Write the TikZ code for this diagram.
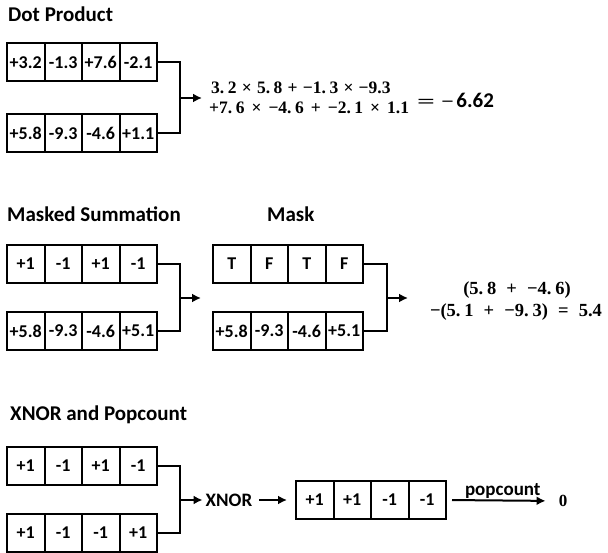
\documentclass[tikz,border=0pt]{standalone}
\usepackage[no-math]{fontspec}
\newfontfamily\labelfont{Carlito}
\newfontfamily\eqnfont{Liberation Serif}
\usepackage{tikz}
\usetikzlibrary{arrows.meta}

\newcommand\opsp{\hspace{0.3em}}
\newcommand\lsp{\hspace{0.4em}}
\newcommand\wsp{\hspace{0.55em}}
\newcommand\dpt{.\hspace{0.2em}}

\tikzset{
  cell/.style={draw, line width=2pt, minimum width=37.5pt, minimum height=38pt, inner sep=0pt, font=\labelfont\bfseries\fontsize{18}{20}\selectfont},
  title/.style={anchor=base west, inner sep=0pt, font=\labelfont\bfseries\fontsize{21}{24}\selectfont},
  wire/.style={line width=2pt},
  eqn/.style={inner sep=0pt, font=\eqnfont\bfseries\fontsize{17.5}{20}\selectfont}
}

\begin{document}
\begin{tikzpicture}[x=1pt, y=-1pt, >={Latex[length=9pt,width=9pt]}]
\useasboundingbox (0,0) rectangle (608,553);
% dot product
\node[title](dottitle) at (8,22) {Dot Product};
\node[cell](d11) at (25.75,62.5) {+3.2};
\node[cell](d12) at (63.25,62.5) {-1.3};
\node[cell](d13) at (100.75,62.5) {+7.6};
\node[cell](d14) at (138.25,62.5) {-2.1};
\node[cell](d21) at (25.75,133.5) {+5.8};
\node[cell](d22) at (63.25,133.5) {-9.3};
\node[cell](d23) at (100.75,133.5) {-4.6};
\node[cell](d24) at (138.25,133.5) {+1.1};
\coordinate (dj) at (180,98);
\coordinate (dt) at (202,98);
\node[eqn, anchor=west](dline1) at (211,88) {3\dpt 2\opsp×\opsp 5\dpt 8\opsp+\opsp −1\dpt 3\opsp×\opsp −9.3};
\node[eqn, anchor=west](dline2) at (209,108) {+7\dpt 6\lsp×\lsp −4\dpt 6\lsp+\lsp −2\dpt 1\lsp×\lsp 1.1};
\node[eqn, anchor=west](dres) at (417,100) {\scalebox{1.8}[1]{=}\hspace{0.35em}\scalebox{1.25}[1]{−}\hspace{0.15em}{\labelfont\bfseries\fontsize{21}{24}\selectfont 6.62}};
\draw[wire] (d14.east) -| (dj) |- (d24.east);
\draw[wire,->] (dj) -- (dt);
% masked summation
\node[title](sumtitle) at (7,222) {Masked Summation};
\node[title](masktitle) at (267,222) {Mask};
\node[cell](s11) at (25.75,264) {+1};
\node[cell](s12) at (63.25,264) {-1};
\node[cell](s13) at (100.75,264) {+1};
\node[cell](s14) at (138.25,264) {-1};
\node[cell](s21) at (25.75,331) {+5.8};
\node[cell](s22) at (63.25,331) {-9.3};
\node[cell](s23) at (100.75,331) {-4.6};
\node[cell](s24) at (138.25,331) {+5.1};
\coordinate (sj) at (180,298);
\coordinate (st) at (201,298);
\draw[wire] (s14.east) -| (sj) |- (s24.east);
\draw[wire,->] (sj) -- (st);
\node[cell](m11) at (231.75,264) {T};
\node[cell](m12) at (269.25,264) {F};
\node[cell](m13) at (306.75,264) {T};
\node[cell](m14) at (344.25,264) {F};
\node[cell](m21) at (231.75,331) {+5.8};
\node[cell](m22) at (269.25,331) {-9.3};
\node[cell](m23) at (306.75,331) {-4.6};
\node[cell](m24) at (344.25,331) {+5.1};
\coordinate (mj) at (387,298);
\coordinate (mt) at (408,298);
\draw[wire] (m14.east) -| (mj) |- (m24.east);
\draw[wire,->] (mj) -- (mt);
\node[eqn, font=\eqnfont\bfseries\fontsize{18.5}{20}\selectfont](mline1) at (517,290) {(5\dpt 8\wsp+\wsp −4\dpt 6)};
\node[eqn, font=\eqnfont\bfseries\fontsize{18.5}{20}\selectfont](mline2) at (516,312) {−(5\dpt 1\wsp+\wsp −9\dpt 3)\wsp=\wsp 5.4};
% xnor and popcount
\node[title](xnortitle) at (10,420) {XNOR and Popcount};
\node[cell](x11) at (25.75,466) {+1};
\node[cell](x12) at (63.25,466) {-1};
\node[cell](x13) at (100.75,466) {+1};
\node[cell](x14) at (138.25,466) {-1};
\node[cell](x21) at (25.75,533) {+1};
\node[cell](x22) at (63.25,533) {-1};
\node[cell](x23) at (100.75,533) {-1};
\node[cell](x24) at (138.25,533) {+1};
\coordinate (xj) at (180,500);
\node[inner xsep=3pt, font=\labelfont\bfseries\fontsize{19}{22}\selectfont](xnor) at (229,500) {XNOR};
\draw[wire] (x14.east) -| (xj) |- (x24.east);
\draw[wire,->] (xj) -- (xnor.west);
\node[cell](r1) at (314.75,500) {+1};
\node[cell](r2) at (352.25,500) {+1};
\node[cell](r3) at (389.75,500) {-1};
\node[cell](r4) at (427.25,500) {-1};
\draw[wire,->,shorten <=4pt,shorten >=8pt] (xnor.east) -- (r1.west);
\node[eqn, font=\eqnfont\bfseries\fontsize{17}{18}\selectfont](zero) at (563,501) {0};
\draw[wire,->,shorten <=5pt,shorten >=13pt] (r4.east) -- node[above, inner sep=1pt, font=\labelfont\bfseries\fontsize{19}{22}\selectfont](pc) {popcount} (zero.west);
\end{tikzpicture}
\end{document}
